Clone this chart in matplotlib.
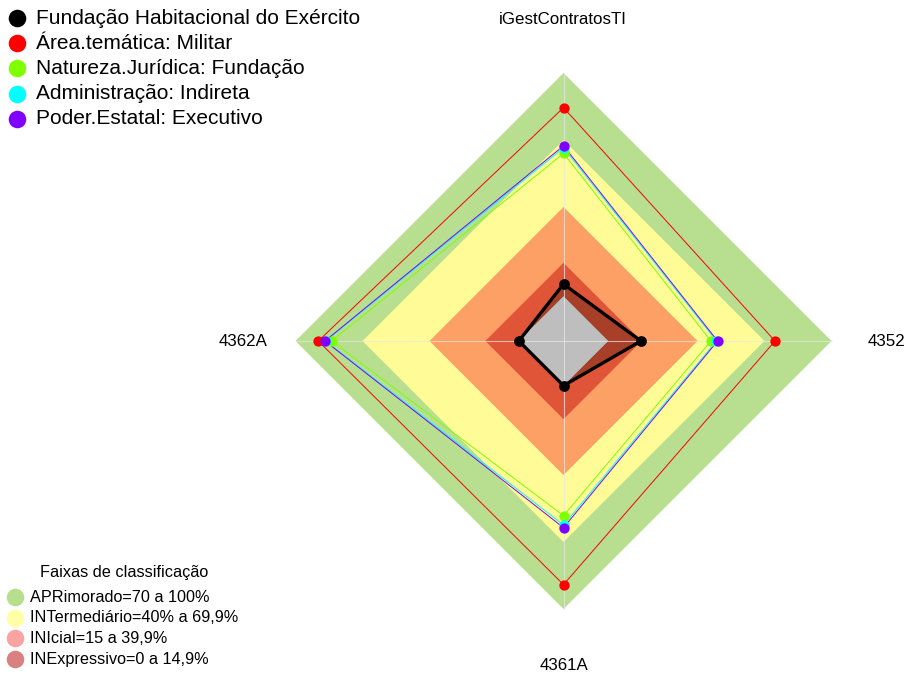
import matplotlib
matplotlib.use('Agg')
import matplotlib.pyplot as plt
import numpy as np

plt.rcParams['font.family'] = ['Liberation Sans', 'DejaVu Sans']

# eixos (sentido anti-horário a partir do topo)
categories = ['iGestContratosTI', '4362A', '4361A', '4352']

# faixas de classificação (limites superiores, escala -20..100)
band_limits = [100, 70, 40, 15, 0]
band_colors = ['#B8DF8F', '#FFFB96', '#FCA066', '#E05537', '#BEBEBE']

series_names = ['Fundação Habitacional do Exército', 'Área.temática: Militar',
                'Natureza.Jurídica: Fundação', 'Administração: Indireta',
                'Poder.Estatal: Executivo']
series_colors = ['#000000', '#FF0000', '#7FFF00', '#00FFFF', '#8000FF']
fundacao = [5.5, 0, 0, 14.7]
militar = [84.5, 89.8, 89.1, 74.7]
natureza = [64.0, 83.8, 58.2, 46.0]
indireta = [66.5, 86.5, 62.4, 48.5]
executivo = [67.4, 86.8, 63.6, 49.0]
series_values = [fundacao, militar, natureza, indireta, executivo]

legend_labels = ['APRimorado=70 a 100%', 'INTermediário=40% a 69,9%',
                 'INIcial=15 a 39,9%', 'INExpressivo=0 a 14,9%']
legend_colors = ['#B5DF8C', '#FFFFA6', '#F9A3A3', '#D98080']

vmin, vmax = -20, 100
angles = np.pi / 2 + np.arange(len(categories)) * 2 * np.pi / len(categories)


def to_xy(vals):
    r = (np.asarray(vals, dtype=float) - vmin) / (vmax - vmin)
    return r * np.cos(angles), r * np.sin(angles)


W, H = 905, 675
cx, cy, R = 563.5, 341, 268
fig = plt.figure(figsize=(W / 100, H / 100), dpi=100)
ax = fig.add_axes([0, 0, 1, 1])
ax.set_xlim(-cx / R, (W - cx) / R)
ax.set_ylim(-(H - cy) / R, cy / R)
ax.set_aspect('equal')
ax.axis('off')

# faixas de fundo
for lim, col in zip(band_limits, band_colors):
    x, y = to_xy([lim] * len(categories))
    ax.fill(x, y, color=col, lw=0, zorder=1)

# sombra da série principal
x, y = to_xy(fundacao)
ax.fill(x, y, color='black', alpha=0.25, lw=0, zorder=2)
x, y = to_xy([0] * len(categories))
ax.fill(x, y, color=band_colors[-1], lw=0, zorder=2.5)

# linhas dos eixos
for a in angles:
    ax.plot([0, np.cos(a)], [0, np.sin(a)], color='#E6E6E6', lw=0.8, alpha=0.7, zorder=3)

# séries
order = [1, 2, 3, 4, 0]
for i in order:
    x, y = to_xy(series_values[i])
    xc, yc = np.append(x, x[0]), np.append(y, y[0])
    if i == 0:
        ax.plot(xc, yc, color='black', lw=2.4, zorder=6)
        ax.scatter(x, y, s=60, color='black', zorder=7, lw=0)
    else:
        ax.plot(xc, yc, color=series_colors[i], lw=0.7, zorder=4)
        ax.scatter(x, y, s=55, color=series_colors[i], zorder=5, lw=0)

# rótulos dos eixos
label_pos = [(563, 20), (243, 341), (564, 665), (886, 341)]
for cat, (px, py) in zip(categories, label_pos):
    ax.text(px / W, 1 - py / H, cat, transform=ax.transAxes, ha='center', va='center',
            fontsize=12.2, zorder=10)

# legenda das séries
for k, (name, col) in enumerate(zip(series_names, series_colors)):
    py = 18 + k * 25.2
    ax.scatter([17 / W], [1 - py / H], s=160, color=col, transform=ax.transAxes,
               zorder=10, lw=0, clip_on=False)
    ax.text(36 / W, 1 - py / H, name, transform=ax.transAxes, ha='left',
            va='center', fontsize=15, zorder=10)

# legenda das faixas
ax.text(124 / W, 1 - 573 / H, 'Faixas de classificação', transform=ax.transAxes,
        ha='center', va='center', fontsize=11.7, zorder=10)
for k, (lab, col) in enumerate(zip(legend_labels, legend_colors)):
    py = 597 + k * 20.7
    ax.scatter([15 / W], [1 - py / H], s=160, color=col, transform=ax.transAxes,
               zorder=10, lw=0, clip_on=False)
    ax.text(30 / W, 1 - py / H, lab, transform=ax.transAxes, ha='left',
            va='center', fontsize=11.7, zorder=10)

fig.savefig('out.png', dpi=100, facecolor='white')
